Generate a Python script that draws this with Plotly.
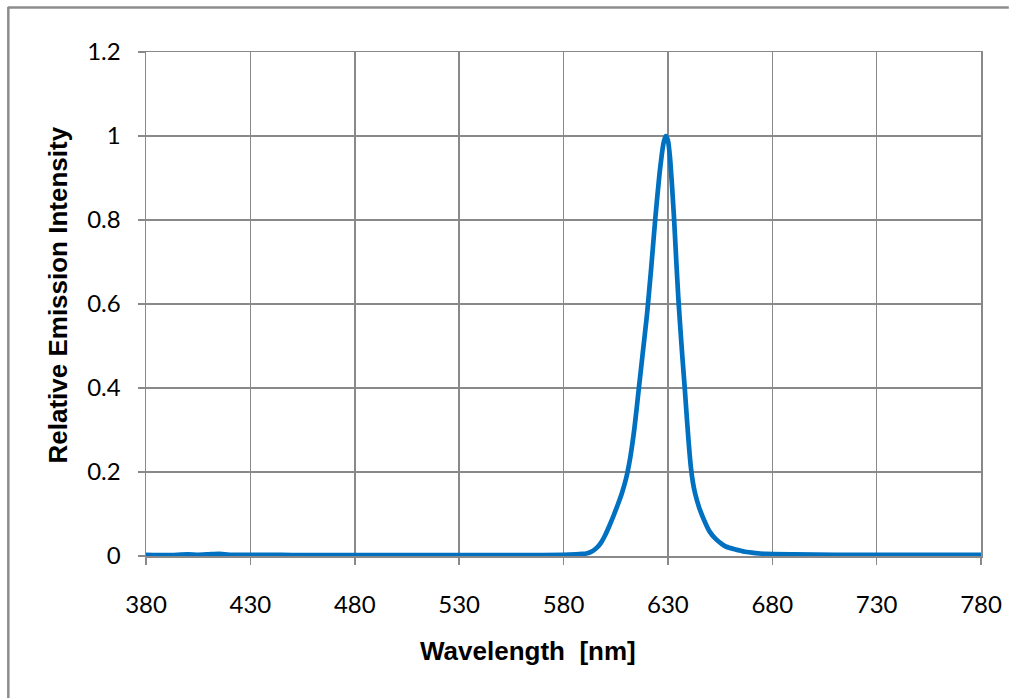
import plotly.graph_objects as go

# Emission spectrum
wavelength = [380, 390, 400, 405, 410, 415, 420, 430, 440, 450, 460, 480, 500, 520, 540, 560,
              580, 586, 589, 591, 594, 596, 598, 600, 602, 604, 606, 608, 610, 612, 614, 616,
              618, 620, 622, 624, 626, 628, 629, 630, 631, 632, 633, 634, 635, 636, 637, 638,
              639, 640, 641, 642, 643, 645, 648, 650, 653, 656, 658, 662, 667, 672, 677, 690,
              710, 730, 750, 780]
intensity = [0.003, 0.002, 0.004, 0.003, 0.004, 0.005, 0.003, 0.003, 0.003, 0.002, 0.002, 0.002,
             0.002, 0.002, 0.002, 0.002, 0.003, 0.004, 0.005, 0.006, 0.012, 0.020, 0.032, 0.050,
             0.072, 0.096, 0.122, 0.150, 0.185, 0.235, 0.305, 0.395, 0.485, 0.575, 0.685, 0.805,
             0.910, 0.985, 1.000, 0.990, 0.950, 0.880, 0.800, 0.705, 0.615, 0.540, 0.470, 0.405,
             0.335, 0.268, 0.212, 0.175, 0.150, 0.115, 0.078, 0.058, 0.040, 0.028, 0.022, 0.016,
             0.010, 0.007, 0.005, 0.004, 0.003, 0.003, 0.003, 0.003]

x_ticks = [380, 430, 480, 530, 580, 630, 680, 730, 780]
y_ticks = [0, 0.2, 0.4, 0.6, 0.8, 1, 1.2]
y_tick_text = ["0", "0.2", "0.4", "0.6", "0.8", "1", "1.2"]

x_title = "Wavelength  [nm]"
y_title = "Relative Emission Intensity"

W, H = 1014, 698
L, R, T, B = 146, 28, 52, 142
pw, ph = W - L - R, H - T - B

def px(xp):
    return (xp - L) / pw

def py(yp):
    return (H - B - yp) / ph

grid = "#898989"
border = "#8c8c8c"
tickfont = dict(family="Lato, 'Open Sans', sans-serif", size=24, color="#000000")

fig = go.Figure()
fig.add_trace(go.Scatter(
    x=wavelength, y=intensity, mode="lines",
    line=dict(color="#0070C0", width=4.7, shape="spline", smoothing=0.5),
    showlegend=False, hoverinfo="skip"))

fig.update_layout(
    width=W, height=H, autosize=False,
    margin=dict(l=L, r=R, t=T, b=B, pad=0),
    paper_bgcolor="white", plot_bgcolor="white",
    xaxis=dict(range=[380, 780], tickvals=x_ticks, ticktext=[str(v) for v in x_ticks],
               showgrid=True, gridcolor=grid, gridwidth=1.5,
               showline=True, linecolor=grid, linewidth=1.5, mirror=True,
               ticks="outside", ticklen=7, tickcolor=grid, tickwidth=1.5,
               tickfont=tickfont, ticklabelstandoff=20, zeroline=False, fixedrange=True),
    yaxis=dict(range=[0, 1.2], tickvals=y_ticks, ticktext=y_tick_text,
               showgrid=True, gridcolor=grid, gridwidth=1.5,
               showline=True, linecolor=grid, linewidth=1.5, mirror=True,
               ticks="outside", ticklen=7, tickcolor=grid, tickwidth=1.5,
               tickfont=tickfont, ticklabelstandoff=12, zeroline=False, fixedrange=True),
    shapes=[
        dict(type="line", xref="paper", yref="paper",
             x0=px(7), x1=px(W), y0=py(7.5), y1=py(7.5),
             line=dict(color=border, width=2.5), layer="below"),
        dict(type="line", xref="paper", yref="paper",
             x0=px(7.5), x1=px(7.5), y0=py(7), y1=py(H),
             line=dict(color=border, width=2.5), layer="below"),
    ],
    annotations=[
        dict(text=f"<b>{x_title}</b>", xref="paper", yref="paper",
             x=px(530), y=py(651), xanchor="center", yanchor="middle", showarrow=False,
             font=dict(family="Liberation Sans, Arial, sans-serif", size=26, color="#000000")),
        dict(text=f"<b>{y_title}</b>", xref="paper", yref="paper",
             x=px(57), y=py(295), xanchor="center", yanchor="middle", showarrow=False,
             textangle=-90,
             font=dict(family="Liberation Sans, Arial, sans-serif", size=26, color="#000000")),
    ],
)

fig.write_html(
    "out.html",
    config={"displayModeBar": False, "staticPlot": True},
    post_script="document.body.style.margin='0';document.body.style.overflow='hidden';",
)
